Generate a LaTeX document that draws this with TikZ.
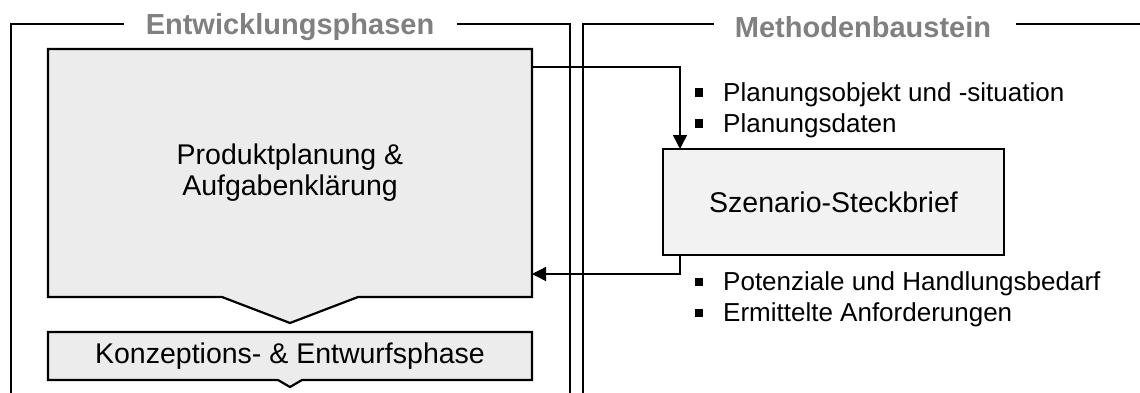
\documentclass[tikz,border=0pt]{standalone}
\usepackage{fontspec}
\setmainfont{Liberation Sans}
\usetikzlibrary{arrows.meta,calc,backgrounds}
\definecolor{boxgray}{RGB}{236,236,236}
\definecolor{boxlight}{RGB}{242,242,242}
\definecolor{titlegray}{RGB}{128,128,128}
\tikzset{
  frameline/.style={line width=1.6pt, draw=black},
  boxline/.style={line width=2.2pt, draw=black, line join=miter},
  arr/.style={line width=1.4pt, -{Triangle[length=14pt,width=14pt]}},
  paneltitle/.style={font=\fontsize{29}{31}\selectfont\bfseries, text=titlegray, inner sep=0pt},
  maintext/.style={font=\fontsize{28.5}{31}\selectfont, align=center, inner sep=0pt, outer sep=0pt},
  bullettext/.style={font=\fontsize{26}{31}\selectfont, anchor=base west, inner sep=0pt},
  bulletsq/.style={fill=black, minimum width=8pt, minimum height=8.5pt, inner sep=0pt, outer sep=0pt},
}
\begin{document}
\begin{tikzpicture}[x=1pt,y=-1pt]
\useasboundingbox (0,0) rectangle (1140,392);

% panel titles
\node[paneltitle] (t1) at (290,27) {Entwicklungsphasen};
\node[paneltitle] (t2) at (863,27) {Methodenbaustein};

% panel frames
\draw[frameline] (11,400) -- (11,24) -- (124,24);
\draw[frameline] (457,24) -- (570,24) -- (570,400);
\draw[frameline] (583,400) -- (583,24) -- (714,24);
\draw[frameline] (1016,24) -- (1150,24);

% phase 1 box
\node[maintext, minimum width=484pt, minimum height=248pt] (pp) at (290,173)
  {Produktplanung \&\\Aufgabenklärung};
% phase 2 box
\node[maintext, minimum width=484pt, minimum height=48pt] (kb) at (290,356)
  {Konzeptions- \& Entwurfsphase};
\begin{scope}[on background layer]
  \draw[boxline, fill=boxgray] (pp.north west) -- (pp.north east) -- (pp.south east)
    -- ($(pp.south)+(68,0)$) -- ($(pp.south)+(0,26)$) -- ($(pp.south)+(-68,0)$)
    -- (pp.south west) -- cycle;
  \draw[boxline, fill=boxgray] (kb.north west) -- (kb.north east) -- (kb.south east)
    -- ($(kb.south)+(12,0)$) -- ($(kb.south)+(0,7)$) -- ($(kb.south)+(-12,0)$)
    -- (kb.south west) -- cycle;
\end{scope}

% method box
\node[maintext, boxline, fill=boxlight, minimum width=341pt, minimum height=106pt] (sz)
  at (833.5,202) {Szenario-Steckbrief};

% connectors
\draw[arr] ($(pp.north east)+(0,18)$) -| ($(sz.north west)+(17,0)$);
\draw[arr] ($(sz.south west)+(17,0)$) |- ($(pp.north east)+(0,225)$);

% bullet lists
\node[bulletsq] (q1) at (699,92.5) {};
\node[bullettext] (b1) at (723,101) {Planungsobjekt und -situation};
\node[bulletsq] (q2) at (699,123.5) {};
\node[bullettext] (b2) at (723,132) {Planungsdaten};
\node[bulletsq] (q3) at (699,282) {};
\node[bullettext] (b3) at (723,290.5) {Potenziale und Handlungsbedarf};
\node[bulletsq] (q4) at (699,313) {};
\node[bullettext] (b4) at (723,321.5) {Ermittelte Anforderungen};
\end{tikzpicture}
\end{document}
